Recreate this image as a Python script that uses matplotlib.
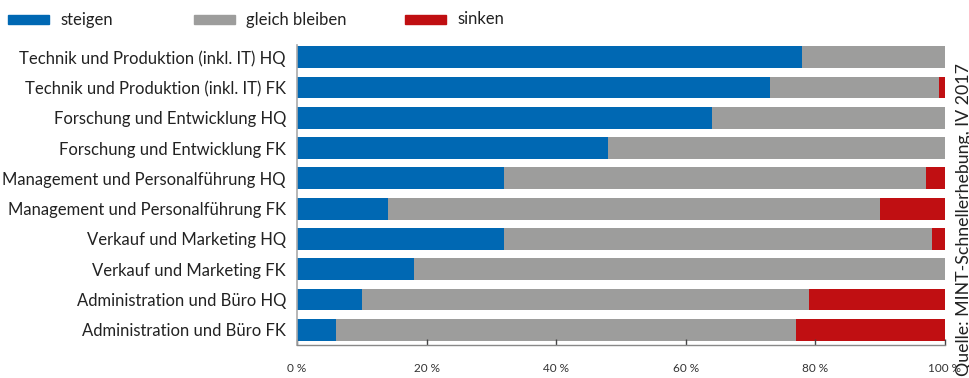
import matplotlib
matplotlib.use("Agg")
import matplotlib.pyplot as plt
from matplotlib.patches import Rectangle
import numpy as np

plt.rcParams['font.family'] = ['Lato', 'DejaVu Sans']

categories = [
    "Technik und Produktion (inkl. IT) HQ",
    "Technik und Produktion (inkl. IT) FK",
    "Forschung und Entwicklung HQ",
    "Forschung und Entwicklung FK",
    "Management und Personalführung HQ",
    "Management und Personalführung FK",
    "Verkauf und Marketing HQ",
    "Verkauf und Marketing FK",
    "Administration und Büro HQ",
    "Administration und Büro FK",
]
steigen = [78, 73, 64, 48, 32, 14, 32, 18, 10, 6]
gleich = [22, 26, 36, 52, 65, 76, 66, 82, 69, 71]
sinken = [0, 1, 0, 0, 3, 10, 2, 0, 21, 23]
series_names = ["steigen", "gleich bleiben", "sinken"]
colors = ["#0068b3", "#9d9d9c", "#c00f12"]
xticks = [0, 20, 40, 60, 80, 100]
xtick_labels = ["0 %", "20 %", "40 %", "60 %", "80 %", "100 %"]
source = "Quelle: MINT-Schnellerhebung, IV 2017"

fig = plt.figure(figsize=(9.69, 3.78), dpi=100)
ax = fig.add_axes([297/969, 1-345/378, (945-297)/969, 300/378])

y = np.arange(len(categories))
s = np.array(steigen)
g = np.array(gleich)
r = np.array(sinken)
h = 0.72
ax.barh(y, s, height=h, color=colors[0])
ax.barh(y, g, left=s, height=h, color=colors[1])
ax.barh(y, r, left=s + g, height=h, color=colors[2])

ax.set_xlim(0, 100)
ax.set_ylim(9.5, -0.4)
ax.set_yticks(y)
ax.set_yticklabels(categories, fontsize=12, color="#222222")
ax.tick_params(axis='y', length=0, pad=8)
ax.set_xticks(xticks)
ax.set_xticklabels(xtick_labels, fontsize=8.5, color="#333333")
ax.tick_params(axis='x', direction='in', length=4, width=1, color="#444444", pad=13)
for sp in ['top', 'right']:
    ax.spines[sp].set_visible(False)
ax.spines['left'].set_color("#aaaaaa")
ax.spines['left'].set_linewidth(1.2)
ax.spines['bottom'].set_color("#888888")
ax.spines['bottom'].set_linewidth(1)

# legend
leg_x = [8, 194, 405]
for xx, name, c in zip(leg_x, series_names, colors):
    fig.patches.append(Rectangle((xx/969, 1-24/378), 41/969, 9/378,
                                 transform=fig.transFigure, color=c))
    fig.text((xx+52)/969, 1-19.5/378, name, fontsize=12, va='center', ha='left', color="#222222")

fig.text(964/969, 2/378, source, rotation=90, fontsize=12.8, ha='center', va='bottom', color="#222222")

fig.savefig("out.png", dpi=100)
